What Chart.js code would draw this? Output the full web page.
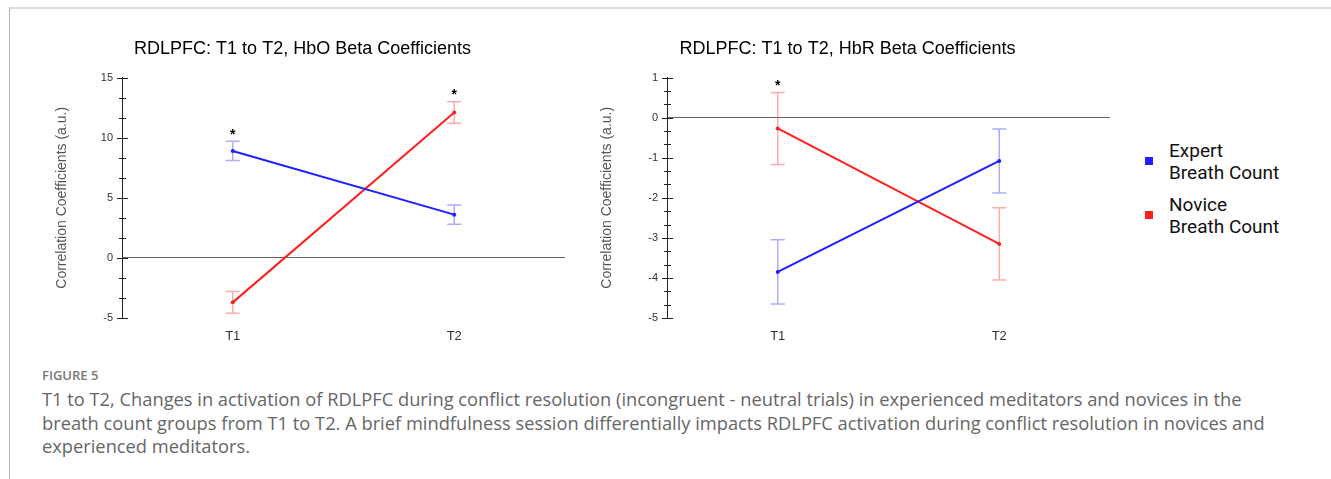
<!DOCTYPE html>
<html>
<head>
<meta charset="utf-8">
<script src="https://cdn.jsdelivr.net/npm/chart.js@4.4.1/dist/chart.umd.min.js"></script>
<style>
  body { margin: 0; width: 1331px; height: 479px; background: #fff; position: relative; overflow: hidden; }
  .frame { position: absolute; left: 9px; top: 7px; width: 1340px; height: 500px; border-top: 2px solid #dcdcdc; border-left: 1px solid #b5b5b5; }
  .chart-box { position: absolute; top: 20px; height: 330px; }
  .legend { position: absolute; left: 1145px; font-family: Roboto, sans-serif; font-size: 19px; line-height: 22px; color: #111; }
  .legend .sw { position: absolute; left: 0; width: 8px; height: 8px; }
  .legend .txt { position: absolute; left: 24px; white-space: nowrap; }
  .caption { position: absolute; left: 42px; font-family: "Open Sans", sans-serif; white-space: nowrap; }
  .fig { top: 366px; font-size: 13px; font-weight: 600; color: #777; }
  .body { top: 387px; font-size: 18.3px; line-height: 23.5px; color: #666; }
</style>
</head>
<body>
<div class="frame"></div>
<div class="chart-box" style="left:40px;width:540px;"><canvas id="hbo-chart"></canvas></div>
<div class="chart-box" style="left:585px;width:542px;"><canvas id="hbr-chart"></canvas></div>

<div class="legend" style="top:140px;">
  <div class="sw" style="top:17px;background:#1f1fff;"></div>
  <div class="txt">Expert<br>Breath Count</div>
</div>
<div class="legend" style="top:194px;">
  <div class="sw" style="top:17px;background:#ff1f1f;"></div>
  <div class="txt">Novice<br>Breath Count</div>
</div>

<div class="caption fig">FIGURE 5</div>
<div class="caption body">T1 to T2, Changes in activation of RDLPFC during conflict resolution (incongruent - neutral trials) in experienced meditators and novices in the<br>breath count groups from T1 to T2. A brief mindfulness session differentially impacts RDLPFC activation during conflict resolution in novices and<br>experienced meditators.</div>

<script>
// Time points
const categories = ['T1', 'T2'];

// HbO beta coefficients (mean, error, significance marker)
const hboExpert = [8.9, 3.6];
const hboExpertErr = [0.8, 0.8];
const hboExpertSig = [true, false];
const hboNovice = [-3.7, 12.1];
const hboNoviceErr = [0.9, 0.9];
const hboNoviceSig = [false, true];

// HbR beta coefficients
const hbrExpert = [-3.85, -1.08];
const hbrExpertErr = [0.8, 0.8];
const hbrExpertSig = [false, false];
const hbrNovice = [-0.27, -3.15];
const hbrNoviceErr = [0.9, 0.9];
const hbrNoviceSig = [true, false];

// Y axis ranges / tick steps
const hboRange = [-5, 15, 5];
const hbrRange = [-5, 1, 1];

const blue = '#1f1fff';
const red = '#ff1f1f';
const font = "'Liberation Sans', Arial, sans-serif";

// error bars under the lines, asterisks above
const errorBarPlugin = {
    id: 'errorBars',
    beforeDatasetsDraw(chart) {
        const ctx = chart.ctx;
        const yScale = chart.scales.y;
        chart.data.datasets.forEach((ds, i) => {
            const meta = chart.getDatasetMeta(i);
            ctx.save();
            ctx.strokeStyle = ds.errorColor;
            ctx.lineWidth = 1.5;
            meta.data.forEach((pt, j) => {
                const top = yScale.getPixelForValue(ds.data[j] + ds.errors[j]);
                const bot = yScale.getPixelForValue(ds.data[j] - ds.errors[j]);
                ctx.beginPath();
                ctx.moveTo(pt.x, top); ctx.lineTo(pt.x, bot);
                ctx.moveTo(pt.x - 7, top); ctx.lineTo(pt.x + 7, top);
                ctx.moveTo(pt.x - 7, bot); ctx.lineTo(pt.x + 7, bot);
                ctx.stroke();
            });
            ctx.restore();
        });
    },
    afterDatasetsDraw(chart) {
        const ctx = chart.ctx;
        const yScale = chart.scales.y;
        chart.data.datasets.forEach((ds, i) => {
            const meta = chart.getDatasetMeta(i);
            meta.data.forEach((pt, j) => {
                if (!ds.sig[j]) return;
                const top = yScale.getPixelForValue(ds.data[j] + ds.errors[j]);
                ctx.save();
                ctx.fillStyle = '#000';
                ctx.font = 'bold 14px ' + font;
                ctx.textAlign = 'center';
                ctx.textBaseline = 'middle';
                ctx.fillText('*', pt.x, top - 6);
                ctx.restore();
            });
        });
    }
};

// ticks crossing the y axis, with two minor ticks between majors
const axisTickPlugin = {
    id: 'axisTicks',
    afterDraw(chart) {
        const ctx = chart.ctx;
        const y = chart.scales.y;
        const x0 = chart.chartArea.left;
        const vals = y.ticks.map(t => t.value);
        ctx.save();
        ctx.strokeStyle = '#222';
        ctx.lineWidth = 1;
        vals.forEach((v, k) => {
            const py = Math.round(y.getPixelForValue(v)) + 0.5;
            ctx.beginPath();
            ctx.moveTo(x0 - 5, py); ctx.lineTo(x0 + 6, py);
            ctx.stroke();
            if (k < vals.length - 1) {
                const step = (vals[k + 1] - v) / 3;
                for (let m = 1; m < 3; m++) {
                    const my = Math.round(y.getPixelForValue(v + step * m)) + 0.5;
                    ctx.beginPath();
                    ctx.moveTo(x0 - 3, my); ctx.lineTo(x0 + 4, my);
                    ctx.stroke();
                }
            }
        });
        ctx.restore();
    }
};

function createChart(id, title, expert, expertErr, expertSig, novice, noviceErr, noviceSig, range, rightPad) {
    const ctx = document.getElementById(id).getContext('2d');
    new Chart(ctx, {
        type: 'line',
        data: {
            labels: categories,
            datasets: [{
                label: 'Expert Breath Count',
                data: expert,
                errors: expertErr,
                sig: expertSig,
                borderColor: blue,
                backgroundColor: blue,
                errorColor: 'rgba(70, 70, 255, 0.45)',
                borderWidth: 2,
                pointRadius: 2,
                pointBorderWidth: 0,
                tension: 0
            }, {
                label: 'Novice Breath Count',
                data: novice,
                errors: noviceErr,
                sig: noviceSig,
                borderColor: red,
                backgroundColor: red,
                errorColor: 'rgba(255, 70, 70, 0.45)',
                borderWidth: 2,
                pointRadius: 2,
                pointBorderWidth: 0,
                tension: 0
            }]
        },
        options: {
            responsive: true,
            maintainAspectRatio: false,
            animation: false,
            layout: {
                padding: { left: 0, right: rightPad, top: 0, bottom: 0 }
            },
            plugins: {
                legend: { display: false },
                tooltip: { enabled: false },
                title: {
                    display: true,
                    text: title,
                    color: '#000',
                    font: { family: font, size: 18, weight: 'normal' },
                    padding: { top: 18, bottom: 18 }
                }
            },
            scales: {
                x: {
                    offset: true,
                    afterFit: function(scale) { scale.height = 32; },
                    border: { display: false },
                    grid: { display: false, drawTicks: false },
                    ticks: {
                        color: '#333',
                        padding: 11,
                        font: { family: font, size: 13 }
                    }
                },
                y: {
                    min: range[0],
                    max: range[1],
                    afterFit: function(scale) { scale.width = 82; },
                    border: { display: true, color: '#222', width: 1 },
                    grid: {
                        drawTicks: false,
                        color: function(c) { return c.tick && c.tick.value === 0 ? '#666' : 'rgba(0,0,0,0)'; }
                    },
                    title: {
                        display: true,
                        text: 'Correlation Coefficients (a.u.)',
                        color: '#555',
                        font: { family: font, size: 14 },
                        padding: { top: 14, bottom: 0 }
                    },
                    ticks: {
                        stepSize: range[2],
                        color: '#333',
                        padding: 9,
                        font: { family: font, size: 11 }
                    }
                }
            }
        },
        plugins: [errorBarPlugin, axisTickPlugin]
    });
}

createChart('hbo-chart', 'RDLPFC: T1 to T2, HbO Beta Coefficients',
    hboExpert, hboExpertErr, hboExpertSig, hboNovice, hboNoviceErr, hboNoviceSig, hboRange, 15);
createChart('hbr-chart', 'RDLPFC: T1 to T2, HbR Beta Coefficients',
    hbrExpert, hbrExpertErr, hbrExpertSig, hbrNovice, hbrNoviceErr, hbrNoviceSig, hbrRange, 17);
</script>
</body>
</html>
